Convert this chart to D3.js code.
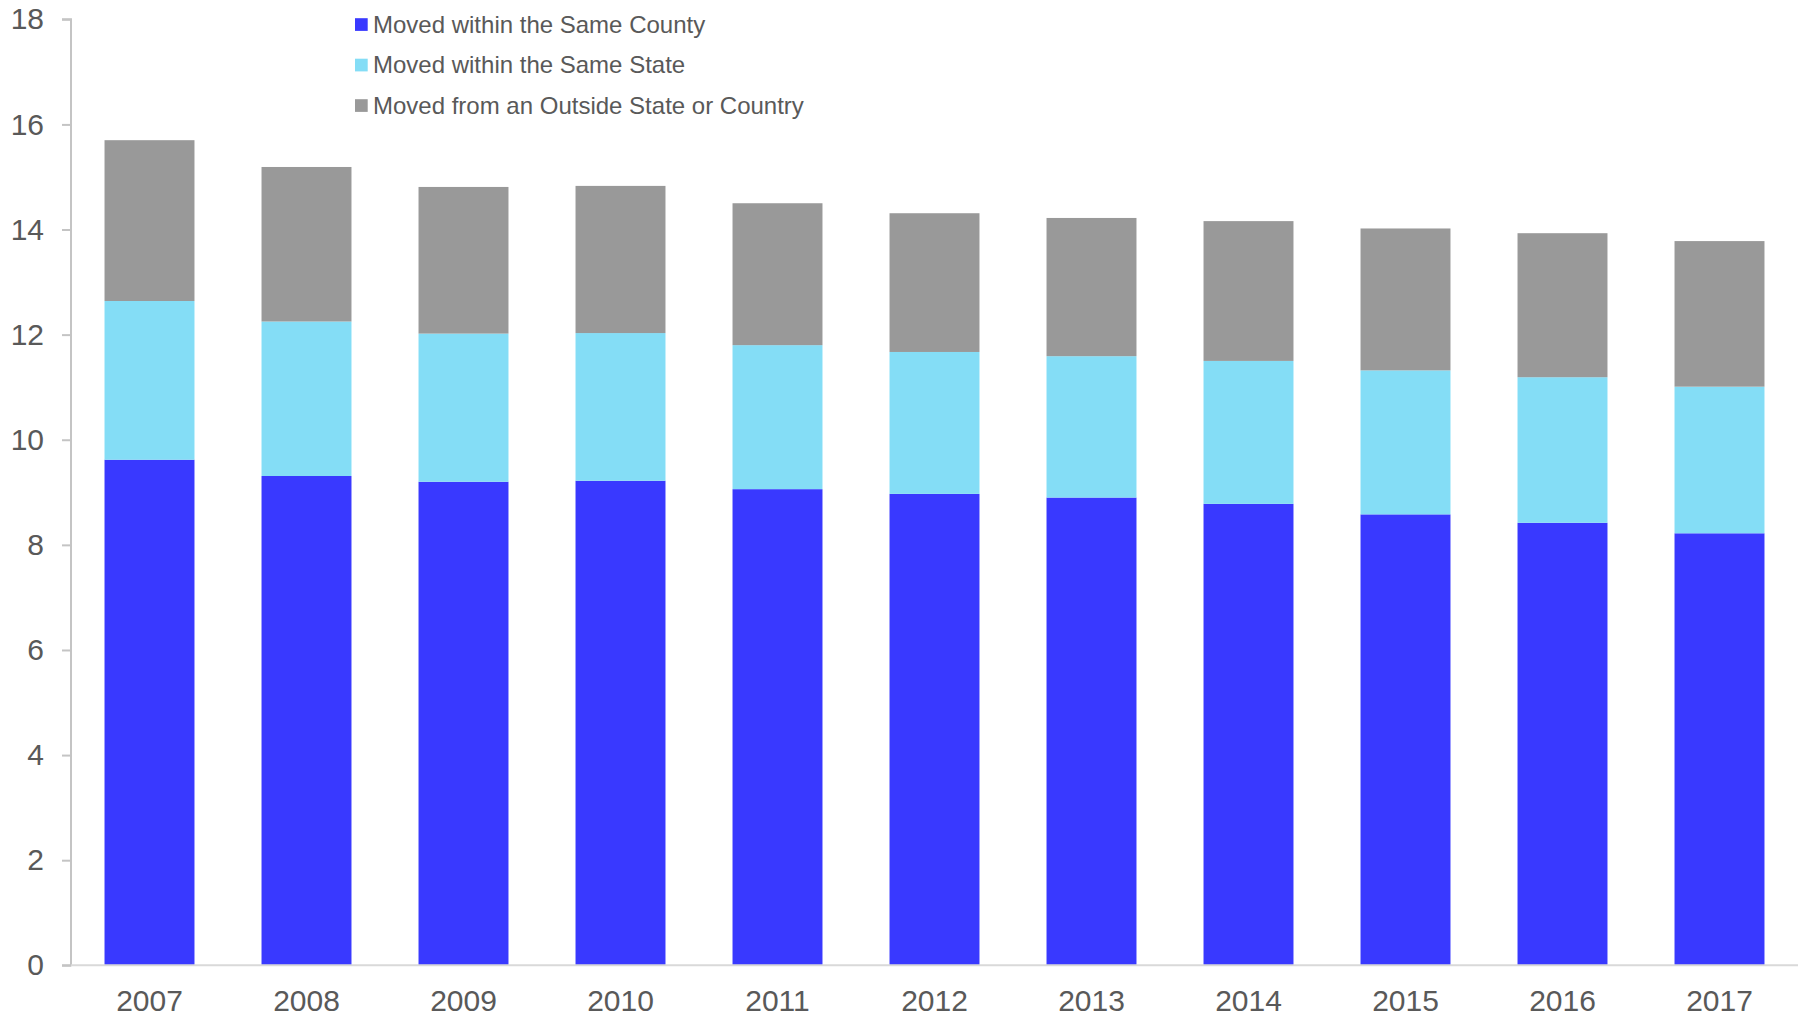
<!DOCTYPE html>
<html>
<head>
<meta charset="utf-8">
<script src="https://cdn.jsdelivr.net/npm/d3@7"></script>
<style>
  html, body { margin: 0; padding: 0; background: #ffffff; }
  svg { display: block; }
  text { font-family: "Liberation Sans", Arial, Helvetica, sans-serif; fill: #595959; }
</style>
</head>
<body>
<svg id="chart" width="1808" height="1018"></svg>
<script>
const years = ["2007","2008","2009","2010","2011","2012","2013","2014","2015","2016","2017"];
const seriesNames = ["Moved within the Same County", "Moved within the Same State", "Moved from an Outside State or Country"];
const sameCounty = [9.62, 9.31, 9.20, 9.22, 9.06, 8.97, 8.90, 8.78, 8.58, 8.42, 8.22];
const sameState  = [3.02, 2.94, 2.82, 2.81, 2.74, 2.70, 2.69, 2.72, 2.74, 2.77, 2.79];
const outside    = [3.06, 2.94, 2.79, 2.80, 2.70, 2.64, 2.63, 2.66, 2.70, 2.74, 2.77];
const yTicks = [0, 2, 4, 6, 8, 10, 12, 14, 16, 18];
const colors = ["#3939FF", "#84DDF6", "#999999"];

const svg = d3.select("#chart");
const x0 = 71, x1 = 1798, yBottom = 965.3, yTop = 19.3;

const x = d3.scaleBand().domain(years).range([x0, x1]).paddingInner(0.427).paddingOuter(0.2135);
const y = d3.scaleLinear().domain([0, 18]).range([yBottom, yTop]);

const rows = years.map((yr, i) => ({ year: yr, s0: sameCounty[i], s1: sameState[i], s2: outside[i] }));
const stack = d3.stack().keys(["s0", "s1", "s2"]);
const stacked = stack(rows);

// bars
svg.append("g").selectAll("g").data(stacked).join("g")
  .attr("fill", (d, i) => colors[i])
  .selectAll("rect").data(d => d).join("rect")
  .attr("x", d => x(d.data.year))
  .attr("width", x.bandwidth())
  .attr("y", d => y(d[1]))
  .attr("height", d => y(d[0]) - y(d[1]));

// y axis
const yAxis = d3.axisLeft(y).tickValues(yTicks).tickSize(9).tickPadding(18).tickFormat(d3.format("d"));
const gy = svg.append("g").attr("transform", `translate(${x0},0)`).call(yAxis);
gy.select(".domain").attr("stroke", "#c4c4c4").attr("stroke-width", 2).attr("d", `M-9,${yTop}H0V${yBottom}H-9`);
gy.selectAll(".tick line").attr("stroke", "#c4c4c4").attr("stroke-width", 2);
gy.selectAll(".tick text").attr("font-size", 30).attr("fill", "#595959")
  .style("font-family", "'Liberation Sans', Arial, sans-serif");

// x axis
const xAxis = d3.axisBottom(x).tickSize(0).tickPadding(24);
const gx = svg.append("g").attr("transform", `translate(0,${yBottom})`).call(xAxis);
gx.select(".domain").attr("stroke", "#d9d9d9").attr("stroke-width", 2).attr("d", `M${x0},0H${x1}`);
gx.selectAll(".tick text").attr("font-size", 30).attr("fill", "#595959")
  .style("font-family", "'Liberation Sans', Arial, sans-serif");

// legend
const legend = svg.append("g");
const legY = [24.5, 65, 105.5];
seriesNames.forEach((name, i) => {
  const g = legend.append("g").attr("transform", `translate(355,${legY[i]})`);
  g.append("rect").attr("x", 0).attr("y", -6.3).attr("width", 12.7).attr("height", 12.7).attr("fill", colors[i]);
  g.append("text").attr("x", 18).attr("y", 0).attr("dy", "0.35em")
    .attr("font-size", 24).attr("fill", "#595959").text(name);
});
</script>
</body>
</html>
